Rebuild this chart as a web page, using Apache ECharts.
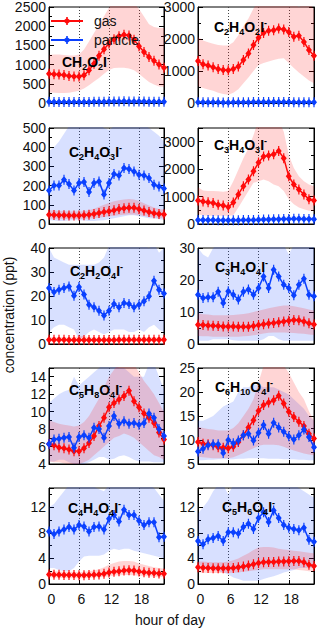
<!DOCTYPE html>
<html><head><meta charset="utf-8">
<script src="https://cdn.jsdelivr.net/npm/echarts@6/dist/echarts.min.js"></script>
<style>html,body{margin:0;padding:0;background:#fff}#c{width:320px;height:630px}</style>
</head><body><div id="c"></div>
<script>
const hours = ['0','1','2','3','4','5','6','7','8','9','10','11','12','13','14','15','16','17','18','19','20','21','22','23'];
const xTickLabels = ['0','6','12','18'];

// CH2O2I-
const ch2o2_gas    = [760,750,740,730,700,690,690,720,850,1020,1230,1400,1550,1660,1740,1780,1760,1650,1480,1330,1200,1100,1000,920];
const ch2o2_gas_lo = [280,270,260,260,270,290,320,380,460,560,650,760,860,910,920,920,900,850,760,650,550,480,430,420];
const ch2o2_gas_hi = [1250,1260,1260,1250,1240,1240,1260,1390,1600,1820,2040,2260,2480,2700,2700,2700,2700,2600,2450,2250,2050,1980,1950,1950];
const ch2o2_par    = [30,28,27,26,26,25,25,26,28,30,32,35,38,40,42,45,42,40,38,36,34,33,32,31];
const ch2o2_par_lo = [12,11,11,10,10,10,10,10,11,12,13,14,15,16,17,18,17,16,15,14,14,13,13,12];
const ch2o2_par_hi = [55,52,50,48,48,46,46,48,52,56,60,65,70,74,78,82,78,74,70,66,62,60,58,56];

// C2H4O2I-
const c2h4o2_gas    = [1310,1210,1170,1120,1065,1035,1025,1065,1140,1345,1550,1810,2040,2190,2255,2275,2330,2300,2220,2070,2100,1910,1655,1480];
const c2h4o2_gas_lo = [520,470,420,380,320,280,260,320,430,620,800,1000,1190,1250,1300,1345,1380,1400,1250,1090,950,830,700,620];
const c2h4o2_gas_hi = [2070,1950,1900,1850,1810,1800,1800,1900,2120,2400,2640,2950,3200,3200,3200,3200,3200,3200,3200,3100,3000,3100,3200,2900];
const c2h4o2_par    = [22,21,20,20,20,19,19,20,22,24,26,28,30,32,33,34,33,31,29,27,26,25,24,23];
const c2h4o2_par_lo = [10,10,9,9,9,9,9,9,10,11,12,13,14,15,15,16,15,14,13,12,12,11,11,10];
const c2h4o2_par_hi = [40,38,36,36,36,35,35,36,40,43,46,50,54,57,59,60,59,56,52,49,47,45,43,41];

// C2H4O3I-
const c2h4o3_gas    = [48,47,46,45,44,44,44,45,48,52,57,62,67,72,78,82,85,84,78,70,62,56,52,50];
const c2h4o3_gas_lo = [28,27,27,26,26,26,26,27,28,30,33,36,40,43,46,48,50,50,47,42,38,34,31,30];
const c2h4o3_gas_hi = [72,70,68,66,65,65,65,67,72,80,90,100,110,118,124,128,130,128,120,108,96,86,78,75];
const c2h4o3_par    = [174,201,200,231,208,174,214,219,167,214,222,153,214,260,253,292,286,274,257,252,240,205,195,185];
const c2h4o3_par_lo = [20,18,15,15,18,20,20,18,15,15,18,20,25,30,35,40,45,45,40,35,30,28,25,22];
const c2h4o3_par_hi = [380,400,430,470,510,520,520,520,520,520,520,500,490,510,520,520,520,520,520,520,500,480,460,430];

// C3H4O3I-
const c3h4o3_gas    = [860,820,790,770,700,670,620,780,1080,1380,1620,1920,2240,2460,2500,2540,2660,2400,1740,1440,1260,1080,900,860];
const c3h4o3_gas_lo = [360,320,300,300,300,300,300,320,600,900,1200,1500,1560,1620,1560,1440,1380,1200,900,720,600,540,480,480];
const c3h4o3_gas_hi = [1340,1220,1200,1200,1190,1180,1200,1560,1980,2400,2760,3240,3800,3800,3800,3800,3800,3360,2520,2040,1740,1560,1440,1380];
const c3h4o3_par    = [150,148,145,145,140,140,138,138,140,142,145,150,155,160,165,170,175,180,185,190,190,185,180,175];
const c3h4o3_par_lo = [90,88,86,85,82,82,80,80,82,84,86,90,94,98,100,104,108,110,112,115,115,112,108,105];
const c3h4o3_par_hi = [220,218,214,212,208,206,204,204,206,210,214,220,228,236,244,250,258,264,270,276,276,270,262,255];

// C2H2O4I-
const c2h2o4_gas    = [1.8,1.8,1.8,1.8,1.7,1.7,1.7,1.7,1.7,1.7,1.7,1.7,1.7,1.7,1.8,1.8,1.8,1.8,1.8,1.8,1.8,1.8,1.8,1.8];
const c2h2o4_gas_lo = [1.0,1.0,1.0,1.0,0.9,0.9,0.9,0.9,0.9,0.9,0.9,0.9,0.9,0.9,1.0,1.0,1.0,1.0,1.0,1.0,1.0,1.0,1.0,1.0];
const c2h2o4_gas_hi = [2.8,2.8,2.8,2.8,2.7,2.8,3.2,3.3,2.8,2.7,2.7,2.7,2.7,2.7,2.8,2.8,2.8,2.8,2.8,2.8,2.8,2.8,2.8,2.8];
const c2h2o4_par    = [23.3,21.7,22.6,23.3,24.0,20.1,23.8,20.6,16.4,15.3,13.9,11.9,13.9,16.7,15.3,17.1,16.7,15.3,16.4,17.8,19.9,26.4,22.6,21.0];
const c2h2o4_par_lo = [5,7,8,8,7,6,2,3,5,6,5,4,5,6,6,6,5,5,6,5,7,8,6,5];
const c2h2o4_par_hi = [40,36,35,34,33,33,33,33,33,33,34,36,41,41,41,41,41,41,41,41,40,42,38,40];

// C3H4O4I-
const c3h4o4_gas    = [6.0,5.9,5.8,5.7,5.6,5.5,5.5,5.5,5.4,5.4,5.4,5.6,5.9,6.2,6.4,6.6,6.8,7.0,7.3,7.5,7.4,7.0,6.5,6.1];
const c3h4o4_gas_lo = [2.5,2.4,2.4,2.3,2.3,2.3,2.3,2.3,2.3,2.4,2.5,2.7,3.0,3.3,3.5,3.6,3.6,3.6,3.5,3.4,3.3,3.2,3.0,2.8];
const c3h4o4_gas_hi = [9.5,9.3,9.2,9.0,9.0,9.0,9.0,9.1,9.2,9.4,9.6,10.0,10.4,10.8,11.2,11.5,11.8,12.0,12.0,11.8,11.5,11.2,10.8,10.5];
const c3h4o4_par    = [15.4,14.4,14.6,14.6,16.3,12.8,16.5,15.4,13.9,16.3,17.0,15.4,17.5,21.1,17.5,23.2,21.1,18.5,17.5,15.2,18.5,20.4,15.4,14.9];
const c3h4o4_par_lo = [1,1,1,1.5,1.5,1.5,1.5,1.2,1,1,1,1,1,1.5,2.5,2.5,1.5,1,1,1,1,1,1,1];
const c3h4o4_par_hi = [30,28,27,30,31,31,31,31,31,31,31,31,31,31,31,31,31,31,28,31,31,31,31,31];

// C5H8O4I-
const c5h8o4_gas    = [6.3,6.15,5.9,5.8,5.65,5.45,5.45,5.8,6.4,7.2,8.35,9.3,10.5,11.0,11.4,11.8,12.4,11.2,10.5,9.8,9.3,8.7,7.6,6.8];
const c5h8o4_gas_lo = [4.3,4.2,4.2,4.1,4.0,4.0,4.0,4.2,4.5,5.0,5.5,6.0,6.5,7.0,7.2,7.5,7.3,7.0,6.5,6.0,5.5,5.0,4.8,4.5];
const c5h8o4_gas_hi = [9.0,8.8,8.6,8.5,8.4,8.3,8.4,8.8,9.5,10.5,11.5,12.8,14.0,14.8,15.5,15.8,15.8,15.4,14.5,13.5,12.8,12.0,11.0,10.0];
const c5h8o4_par    = [6.3,6.8,6.9,7.0,7.1,5.85,7.1,7.3,7.0,8.15,8.0,7.0,8.35,9.5,8.6,8.9,8.6,8.7,8.5,8.7,9.8,9.3,8.0,7.2];
const c5h8o4_par_lo = [4.3,4.3,4.5,4.5,4.2,4.0,4.0,4.0,4.2,4.5,4.8,4.8,4.5,4.6,4.9,5.0,4.8,4.5,4.3,4.3,4.3,4.2,4.2,4.2];
const c5h8o4_par_hi = [11,11.5,12,12.3,12.5,14,13,13.5,14,14.5,15,15.5,15.5,15.5,15,15,14.5,14,14,14,15.5,15.5,14,12.5];

// C6H10O4I-
const c6h10o4_gas    = [9.6,9.2,9.1,8.9,8.5,8.4,8.3,8.6,9.6,11.0,12.6,14.1,16.1,17.3,17.8,18.3,19.2,17.6,15.9,14.8,13.8,12.9,11.3,10.3];
const c6h10o4_gas_lo = [6.5,6.4,6.3,6.2,6.2,6.2,6.2,6.4,6.8,7.3,7.8,8.3,8.8,9.0,9.0,9.0,8.9,8.6,8.2,7.8,7.5,7.2,7.0,6.8];
const c6h10o4_gas_hi = [12.7,12.5,12.3,12.2,12.0,12.0,12.0,12.5,13.5,15,16.5,18.5,22,25.5,26,26,26,25.5,24,22,20,18.5,16,14];
const c6h10o4_par    = [7.6,8.2,8.9,9.1,9.1,7.3,10.0,9.3,9.9,11.0,11.3,9.9,11.5,13.1,11.3,13.6,12.6,11.7,10.8,10.1,11.0,12.2,10.6,8.5];
const c6h10o4_par_lo = [5.8,5.8,5.9,5.9,6.0,6.0,6.0,6.0,6.1,6.1,6.2,6.2,6.2,6.2,6.1,6.1,6.1,6.0,6.0,6.0,5.9,5.9,5.8,5.8];
const c6h10o4_par_hi = [14,14,14.5,15,16,17,17.5,18,20,21,21,21.5,21.5,21,21,21,20.5,20,19.5,18.5,17.5,16.5,15,14];

// C4H4O4I-
const c4h4o4_gas    = [1.5,1.45,1.45,1.4,1.4,1.4,1.35,1.35,1.4,1.45,1.5,1.6,1.8,1.9,2.0,2.1,2.15,2.1,1.95,1.85,1.75,1.7,1.65,1.6];
const c4h4o4_gas_lo = [1.0,1.0,0.95,0.95,0.9,0.9,0.9,0.9,0.95,1.0,1.05,1.1,1.2,1.3,1.35,1.4,1.4,1.35,1.3,1.25,1.2,1.15,1.1,1.1];
const c4h4o4_gas_hi = [2.0,2.0,1.95,1.9,1.9,1.9,1.85,1.9,2.0,2.1,2.3,2.6,3.0,3.3,3.5,3.6,3.6,3.5,3.2,3.0,2.8,2.6,2.5,2.4];
const c4h4o4_par    = [8.2,7.8,8.2,8.5,8.9,8.5,9.2,9.0,8.2,8.9,9.0,8.5,10.2,10.8,9.75,11.6,10.8,10.8,9.9,9.2,9.65,9.65,7.3,7.4];
const c4h4o4_par_lo = [2.5,2.5,2.2,2.0,2.0,2.5,3.5,4.3,4.4,4.4,4.4,4.6,5.2,5.5,5.3,5.5,5.5,5.2,5.0,4.8,4.6,4.4,4.2,4.0];
const c4h4o4_par_hi = [12,12.5,13.5,14.5,15.5,15.5,15.5,15.5,15.5,15.2,14.8,14.5,15.5,15.5,15.5,15.5,15.5,15.5,15.5,15.5,15.5,15,14,13];

// C5H6O4I-
const c5h6o4_gas    = [2.6,2.55,2.5,2.45,2.45,2.45,2.45,2.5,2.6,2.75,2.9,3.1,3.3,3.4,3.45,3.45,3.5,3.5,3.55,3.6,3.6,3.4,3.0,2.8];
const c5h6o4_gas_lo = [1.8,1.75,1.7,1.7,1.7,1.7,1.7,1.75,1.8,1.9,2.0,2.1,2.2,2.3,2.3,2.3,2.3,2.3,2.3,2.3,2.2,2.1,2.0,1.9];
const c5h6o4_gas_hi = [3.5,3.5,3.45,3.4,3.4,3.4,3.5,3.7,4.0,4.4,4.8,5.3,5.7,5.8,5.8,5.7,5.5,5.4,5.3,5.2,5.1,5.0,4.9,4.8];
const c5h6o4_par    = [6.7,6.2,7.0,7.2,7.5,6.7,8.1,8.1,7.9,8.9,9.4,8.6,10.3,11.2,9.7,11.5,10.3,9.2,8.8,8.6,8.4,8.8,6.9,6.6];
const c5h6o4_par_lo = [3,2.8,2.5,2.2,2,1.8,1.5,1,0.8,0.5,0.5,0.5,0.5,0.8,1,1.2,1.5,1.8,2,2.2,2.5,2.5,2.5,2.5];
const c5h6o4_par_hi = [11,12,13,14.5,15.5,15.5,14,15.5,15.5,15.5,15.5,15.5,15.5,15.5,15.5,15.5,15.5,15.5,15.5,15.5,15,14.5,14,13.5];

// panel labels (ion formulas) and y axis ranges
const panelLabels = [
  '{b|CH}{s|2}{b|O}{s|2}{b|I}{p|-}',
  '{b|C}{s|2}{b|H}{s|4}{b|O}{s|2}{b|I}{p|-}',
  '{b|C}{s|2}{b|H}{s|4}{b|O}{s|3}{b|I}{p|-}',
  '{b|C}{s|3}{b|H}{s|4}{b|O}{s|3}{b|I}{p|-}',
  '{b|C}{s|2}{b|H}{s|2}{b|O}{s|4}{b|I}{p|-}',
  '{b|C}{s|3}{b|H}{s|4}{b|O}{s|4}{b|I}{p|-}',
  '{b|C}{s|5}{b|H}{s|8}{b|O}{s|4}{b|I}{p|-}',
  '{b|C}{s|6}{b|H}{s|10}{b|O}{s|4}{b|I}{p|-}',
  '{b|C}{s|4}{b|H}{s|4}{b|O}{s|4}{b|I}{p|-}',
  '{b|C}{s|5}{b|H}{s|6}{b|O}{s|4}{b|I}{p|-}'
];
const yMin  = [0, 0, 0, 0, 0, 0, 4, 5, 0, 0];
const yMax  = [2500, 3000, 500, 3500, 40, 30, 15, 25, 15, 15];
const yStep = [500, 1000, 100, 1000, 10, 10, 2, 5, 4, 4];
const seriesNames = ['gas', 'particle'];
const xAxisTitle = 'hour of day';
const yAxisTitle = 'concentration (ppt)';

const panels = [
  [ch2o2_gas, ch2o2_gas_lo, ch2o2_gas_hi, ch2o2_par, ch2o2_par_lo, ch2o2_par_hi],
  [c2h4o2_gas, c2h4o2_gas_lo, c2h4o2_gas_hi, c2h4o2_par, c2h4o2_par_lo, c2h4o2_par_hi],
  [c2h4o3_gas, c2h4o3_gas_lo, c2h4o3_gas_hi, c2h4o3_par, c2h4o3_par_lo, c2h4o3_par_hi],
  [c3h4o3_gas, c3h4o3_gas_lo, c3h4o3_gas_hi, c3h4o3_par, c3h4o3_par_lo, c3h4o3_par_hi],
  [c2h2o4_gas, c2h2o4_gas_lo, c2h2o4_gas_hi, c2h2o4_par, c2h2o4_par_lo, c2h2o4_par_hi],
  [c3h4o4_gas, c3h4o4_gas_lo, c3h4o4_gas_hi, c3h4o4_par, c3h4o4_par_lo, c3h4o4_par_hi],
  [c5h8o4_gas, c5h8o4_gas_lo, c5h8o4_gas_hi, c5h8o4_par, c5h8o4_par_lo, c5h8o4_par_hi],
  [c6h10o4_gas, c6h10o4_gas_lo, c6h10o4_gas_hi, c6h10o4_par, c6h10o4_par_lo, c6h10o4_par_hi],
  [c4h4o4_gas, c4h4o4_gas_lo, c4h4o4_gas_hi, c4h4o4_par, c4h4o4_par_lo, c4h4o4_par_hi],
  [c5h6o4_gas, c5h6o4_gas_lo, c5h6o4_gas_hi, c5h6o4_par, c5h6o4_par_lo, c5h6o4_par_hi]
];

// ---- layout / style ----
const FONT = '"Liberation Sans", Arial, sans-serif';
const RED = '#ff0a0a', BLUE = '#0a40ff';
const RED_BAND = 'rgba(255,20,20,0.18)', BLUE_BAND = 'rgba(10,64,255,0.16)';
const colLeft = [49, 198], colWidth = [115, 116];
const rowTop = [7, 128, 248, 368, 488], rowHeight = 96;
const labelPos = [[62,53],[214,18],[69,143],[214,136],[70,262],[215,258],[69,381],[215,378],[68,499],[222,498]];
const markerPath = 'path://M-1,-10L1,-10L1,-6L5,0L1,6L1,10L-1,10L-1,6L-5,0L-1,-6Z';

const grids = [], xAxes = [], yAxes = [], series = [], titles = [];
panels.forEach((p, i) => {
  const col = i % 2, row = Math.floor(i / 2);
  grids.push({left: colLeft[col], width: colWidth[col], top: rowTop[row], height: rowHeight,
    show: true, borderColor: '#000', borderWidth: 1, backgroundColor: 'transparent'});
  const bottomRow = row === 4;
  xAxes.push({type: 'category', gridIndex: i, data: hours, boundaryGap: false,
    axisLine: {show: true, lineStyle: {color: '#000'}},
    axisTick: {show: true, inside: true, length: 4, interval: 5, lineStyle: {color: '#000'}},
    axisLabel: {show: bottomRow, interval: 5, margin: 8, color: '#111', fontSize: 14, fontFamily: FONT,
      padding: [0, 0, 0, 5]},
    splitLine: {show: true, interval: 5, lineStyle: {color: '#444', type: [1, 2], width: 1}}
  });
  const aligned = yMax[i] % yStep[i] === 0;
  const common = {type: 'value', gridIndex: i, min: yMin[i], max: yMax[i], interval: yStep[i],
    axisLine: {show: true, lineStyle: {color: '#000'}},
    axisTick: {show: true, inside: true, length: 5, lineStyle: {color: '#000'}},
    minorTick: {show: true, splitNumber: 2, length: 3, lineStyle: {color: '#000'}},
    splitLine: {show: false}};
  yAxes.push(Object.assign({}, common, {position: 'left',
    axisLabel: {show: true, margin: 3, color: '#111', fontSize: 14, fontFamily: FONT,
      showMaxLabel: aligned, formatter: v => String(v)}}));
  yAxes.push(Object.assign({}, common, {position: 'right', axisLabel: {show: false}}));
  const yIdx = i * 2;
  const [g, gLo, gHi, q, qLo, qHi] = p;
  // particle band
  series.push({type: 'line', name: 'pband' + i, xAxisIndex: i, yAxisIndex: yIdx, stack: 'pb' + i,
    data: qLo, symbol: 'none', lineStyle: {opacity: 0}, silent: true});
  series.push({type: 'line', name: 'pband' + i, xAxisIndex: i, yAxisIndex: yIdx, stack: 'pb' + i,
    data: qHi.map((v, k) => v - qLo[k]), symbol: 'none', lineStyle: {opacity: 0},
    areaStyle: {color: BLUE_BAND, opacity: 1}, silent: true});
  // gas band
  series.push({type: 'line', name: 'gband' + i, xAxisIndex: i, yAxisIndex: yIdx, stack: 'gb' + i,
    data: gLo, symbol: 'none', lineStyle: {opacity: 0}, silent: true});
  series.push({type: 'line', name: 'gband' + i, xAxisIndex: i, yAxisIndex: yIdx, stack: 'gb' + i,
    data: gHi.map((v, k) => v - gLo[k]), symbol: 'none', lineStyle: {opacity: 0},
    areaStyle: {color: RED_BAND, opacity: 1}, silent: true});
  // lines
  series.push({type: 'line', name: seriesNames[0], xAxisIndex: i, yAxisIndex: yIdx, data: g,
    color: RED, symbol: markerPath, symbolSize: [6, 10], showAllSymbol: true,
    lineStyle: {color: RED, width: 1.5}, itemStyle: {color: RED}});
  series.push({type: 'line', name: seriesNames[1], xAxisIndex: i, yAxisIndex: yIdx, data: q,
    color: BLUE, symbol: markerPath, symbolSize: [6, 10], showAllSymbol: true,
    lineStyle: {color: BLUE, width: 1.5}, itemStyle: {color: BLUE}});
  titles.push({text: panelLabels[i], left: labelPos[i][0], top: labelPos[i][1], padding: 0,
    textStyle: {rich: {
      b: {fontSize: 14, fontWeight: 'bold', fontFamily: FONT, color: '#000', lineHeight: 18},
      s: {fontSize: 9, fontWeight: 'bold', fontFamily: FONT, color: '#000', lineHeight: 10, verticalAlign: 'bottom'},
      p: {fontSize: 9, fontWeight: 'bold', fontFamily: FONT, color: '#000', lineHeight: 8, verticalAlign: 'top'}
    }}});
});

const chart = echarts.init(document.getElementById('c'), null, {renderer: 'svg'});
chart.setOption({
  animation: false,
  backgroundColor: '#fff',
  title: titles,
  grid: grids,
  xAxis: xAxes,
  yAxis: yAxes,
  series: series,
  legend: {data: seriesNames, left: 50, top: 14, orient: 'vertical', itemWidth: 32, itemHeight: 10,
    itemGap: 5, padding: 0, textStyle: {fontSize: 14, fontFamily: FONT, color: '#111', padding: [0, 0, 0, 6]}},
  graphic: [
    {type: 'text', x: 9, y: 315, rotation: Math.PI / 2,
      style: {text: yAxisTitle, font: '14px ' + FONT, fill: '#111', textAlign: 'center', textVerticalAlign: 'middle'}},
    {type: 'text', x: 170, y: 620,
      style: {text: xAxisTitle, font: '14px ' + FONT, fill: '#111', textAlign: 'center', textVerticalAlign: 'middle'}}
  ]
});
</script>
</body></html>
